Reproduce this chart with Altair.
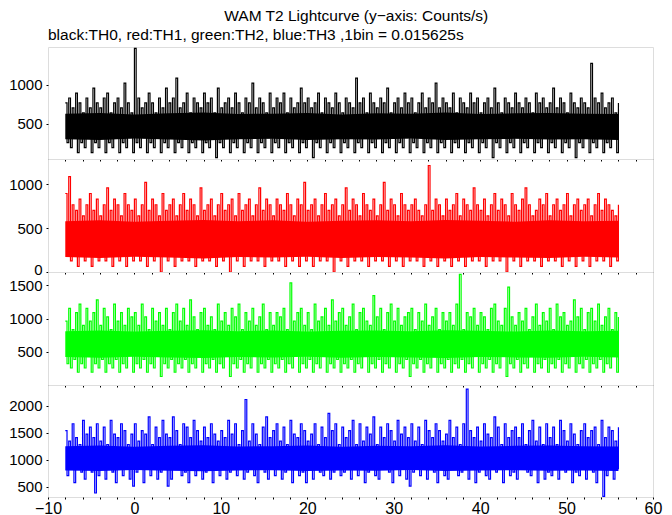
import altair as alt
import pandas as pd

# Light-curve data: counts per bin (binned display grid), converted to counts/s
BIN_SEC = 0.015625
T_START = -8.0
T_STEP = 0.2

TH0 = [
    12,4,13,3,11,5,14,2,12,4,10,3,13,5,11,2,15,4,12,3,
    11,5,13,2,14,4,10,3,12,5,13,2,11,4,16,3,12,5,10,2,
    23,4,13,3,11,5,12,2,14,4,12,3,10,5,13,2,11,4,15,3,
    12,5,13,2,17,4,11,3,12,5,14,2,10,4,13,3,12,5,11,2,
    14,4,12,3,13,5,10,1,15,4,11,3,12,5,13,2,11,4,14,3,
    12,5,10,2,13,4,12,3,16,5,11,2,13,4,12,3,10,5,14,2,
    11,4,13,3,12,5,14,2,10,4,13,3,11,5,12,2,15,4,12,3,
    13,5,11,1,12,4,14,3,10,5,13,2,12,4,11,3,14,5,12,2,
    10,4,13,3,12,5,11,2,17,4,12,3,13,5,10,2,14,4,12,3,
    11,5,13,2,12,4,15,3,10,5,12,2,13,4,11,3,14,5,12,2,
    13,4,10,3,12,5,14,2,11,4,13,3,12,5,16,2,11,4,13,3,
    12,5,11,2,14,4,10,3,13,5,12,2,11,4,14,3,12,5,13,2,
    10,4,12,3,13,5,11,1,15,4,12,3,10,5,13,2,12,4,11,3,
    14,5,12,2,11,4,13,3,12,5,10,2,14,4,12,3,13,5,11,2,
    12,4,15,3,11,5,13,2,12,4,10,3,14,5,12,1,11,4,13,3,
    12,5,11,2,20,4,13,3,12,5,14,2,11,4,12,3,13,5,10,2,12,
]

TH1 = [
    14,3,17,2,12,4,11,1,13,3,10,2,12,4,14,1,11,3,13,2,
    10,4,12,2,15,3,11,1,13,4,12,2,10,3,14,1,12,4,11,2,
    13,3,10,2,12,4,16,1,11,3,13,2,12,4,10,0,14,3,11,2,
    12,4,13,1,10,3,12,2,14,4,11,2,13,3,12,1,10,4,15,2,
    11,3,12,2,13,4,10,1,12,3,14,2,11,4,12,0,13,3,10,2,
    14,4,11,1,12,3,13,2,10,4,12,2,15,3,11,1,13,4,12,2,
    10,3,13,2,12,4,11,1,14,3,12,2,10,4,13,1,12,3,16,2,
    11,4,12,1,13,3,10,2,12,4,14,2,11,3,12,0,13,4,10,2,
    12,3,15,1,11,4,13,2,12,3,10,2,14,4,12,1,11,3,13,2,
    10,4,12,2,16,3,11,1,13,4,12,2,10,3,14,1,12,4,11,2,
    12,3,13,2,11,4,10,1,12,3,19,2,11,4,13,1,12,3,10,2,
    13,4,11,1,12,3,14,2,10,4,13,1,12,3,11,2,15,4,12,2,
    11,3,13,1,10,4,12,2,14,3,11,2,13,4,12,0,10,3,14,2,
    12,4,11,1,13,3,15,2,12,4,10,2,11,3,13,1,12,4,14,2,
    10,3,12,2,13,4,11,1,12,3,14,2,10,4,12,1,13,3,11,2,
    12,4,13,1,10,3,12,2,14,4,11,2,13,3,12,1,11,4,10,2,12,
]

TH2 = [
    15,5,18,4,13,6,17,3,19,5,14,4,18,7,15,3,17,5,20,4,
    14,6,18,3,16,5,13,4,19,6,15,3,17,5,14,4,18,7,16,3,
    17,5,14,4,19,6,16,3,13,5,18,4,15,7,17,2,14,5,18,4,
    13,6,17,3,19,5,15,4,18,6,14,3,20,5,16,4,13,7,17,3,
    18,5,14,4,16,6,13,3,19,5,15,4,17,7,14,2,18,5,16,4,
    19,6,13,3,17,5,15,4,18,7,14,3,16,5,19,4,13,6,17,3,
    14,5,17,4,16,6,18,3,13,5,24,4,15,7,17,3,18,5,14,4,
    17,6,13,3,19,5,15,4,16,7,18,3,14,5,20,4,15,6,17,3,
    18,5,14,4,16,6,19,3,13,5,17,4,18,7,15,3,14,5,21,4,
    16,6,18,3,13,5,17,4,19,7,15,3,18,5,14,4,16,6,17,2,
    18,5,13,4,17,6,15,3,19,5,14,4,16,7,18,3,13,5,17,4,
    15,6,17,3,14,5,19,4,26,6,13,3,17,5,16,4,18,7,14,3,
    17,5,16,4,13,6,18,3,19,5,15,4,14,7,18,2,23,5,16,4,
    14,6,17,3,15,5,18,4,13,7,16,3,19,5,14,4,17,6,15,3,
    18,5,13,4,19,6,16,3,17,5,14,4,15,7,20,3,16,5,18,4,
    13,6,17,3,18,5,15,4,19,6,14,3,16,5,18,4,13,7,17,3,16,
]

TH3 = [
    24,11,21,13,26,9,22,14,20,12,27,10,23,15,25,12,22,6,26,11,
    21,13,25,10,20,14,27,12,23,9,22,15,26,11,24,13,20,10,23,8,
    26,12,21,14,24,9,23,13,28,11,20,15,25,10,22,12,27,14,23,8,
    22,10,28,13,24,15,20,11,26,12,25,9,22,14,27,11,24,13,21,10,
    25,12,22,14,26,9,23,15,21,11,24,13,22,10,27,12,23,14,26,11,
    20,13,24,10,33,12,21,15,26,11,23,9,20,14,25,12,28,10,22,13,
    24,11,26,14,21,10,25,12,20,13,27,9,23,15,22,11,26,12,24,9,
    21,13,23,10,26,14,20,12,25,11,22,15,29,10,24,12,26,13,20,11,
    25,12,22,14,24,10,27,13,20,11,26,15,21,9,25,12,23,14,28,11,
    20,10,25,13,22,15,26,12,24,9,21,14,27,11,23,13,25,10,22,8,
    26,12,21,14,25,11,20,13,27,10,24,15,22,12,26,9,24,13,21,11,
    23,10,27,13,22,15,25,11,20,12,26,14,36,10,24,13,22,9,25,12,
    21,14,26,11,23,10,22,15,28,12,25,13,20,9,26,14,22,11,24,12,
    25,10,22,13,26,15,20,12,24,11,27,14,21,9,25,13,20,10,26,12,
    22,11,25,14,20,10,27,13,24,12,21,15,26,9,23,12,20,11,24,13,
    26,10,22,14,24,12,25,9,20,13,27,5,22,11,25,14,24,10,21,13,25,
]

# Dense core of each light curve (counts/s), read every 4 s from -8 s to 56 s
CORE_T = [-8, -4, 0, 4, 8, 12, 16, 20, 24, 28, 32, 36, 40, 44, 48, 52, 56]
CORE0_LO = [300, 290, 310, 295, 285, 300, 305, 290, 300, 295, 310, 290, 300, 305, 295, 300, 290]
CORE0_HI = [630, 640, 620, 635, 645, 625, 630, 640, 620, 635, 630, 645, 625, 635, 640, 630, 625]
CORE1_LO = [170, 160, 175, 165, 155, 170, 165, 175, 160, 170, 165, 155, 170, 165, 160, 175, 165]
CORE1_HI = [580, 590, 575, 585, 595, 580, 590, 575, 585, 590, 580, 595, 585, 575, 590, 580, 585]
CORE2_LO = [420, 410, 425, 415, 405, 420, 415, 425, 410, 420, 415, 405, 420, 415, 410, 425, 415]
CORE2_HI = [810, 820, 805, 815, 825, 810, 820, 805, 815, 820, 810, 825, 815, 805, 820, 810, 815]
CORE3_LO = [800, 790, 810, 795, 785, 800, 805, 790, 800, 795, 810, 790, 800, 805, 795, 800, 790]
CORE3_HI = [1250, 1260, 1240, 1255, 1265, 1245, 1250, 1260, 1240, 1255, 1250, 1265, 1245, 1255, 1260, 1250, 1245]

TITLE = "WAM T2 Lightcurve (y\u2212axis: Counts/s)"
SUBTITLE = "black:TH0, red:TH1, green:TH2, blue:TH3 ,1bin = 0.015625s"

FONT = "Liberation Sans"
W = 605


def frame(counts):
    return pd.DataFrame({
        "t": [T_START + T_STEP * i for i in range(len(counts))],
        "rate": [c / BIN_SEC for c in counts],
    })


def panel(counts, core_lo, core_hi, color, lo, hi, yticks, h, bottom=False, title=None):
    minor = list(range(-10, 61, 2))
    if bottom:
        xax = alt.Axis(values=minor,
                       labelExpr="datum.value % 10 === 0 ? datum.label : ''",
                       labelFontSize=16, labelFont=FONT, labelColor="black",
                       labelPadding=1, labelFlush=False, labelOverlap=False,
                       tickSize=2, tickColor="black", domain=False, grid=False, title=None)
    else:
        xax = alt.Axis(values=minor, labels=False, tickSize=2, tickColor="black",
                       domain=False, grid=False, title=None)
    yax = alt.Axis(values=yticks, format="d", labelFontSize=15, labelFont=FONT,
                   labelColor="black", labelPadding=4, tickSize=2, tickColor="black",
                   labelOffset={"condition": {"test": "datum.value === 0", "value": -3}, "value": 0},
                   domain=False, grid=False, title=None)
    xs = alt.Scale(domain=[-10, 60], nice=False, zero=False)
    ys = alt.Scale(domain=[lo, hi], nice=False, zero=False)
    core_df = pd.DataFrame({"t": CORE_T, "lo": core_lo, "hi": core_hi})
    core = alt.Chart(core_df).mark_area(color=color, opacity=1, clip=True).encode(
        x=alt.X("t:Q", scale=xs, axis=xax),
        y=alt.Y("lo:Q", scale=ys, axis=yax),
        y2="hi:Q",
    )
    line = alt.Chart(frame(counts)).mark_line(
        interpolate="step-after", color=color, strokeWidth=1.2, clip=True
    ).encode(
        x=alt.X("t:Q", scale=xs, axis=xax),
        y=alt.Y("rate:Q", scale=ys, axis=yax),
    )
    ch = alt.layer(core, line).properties(width=W, height=h)
    if title:
        ch = ch.properties(title=alt.TitleParams(
            title, anchor="start", frame="group", fontSize=15.5, font=FONT,
            fontWeight="normal", color="black", offset=4))
    return ch


p1 = panel(TH0, CORE0_LO, CORE0_HI, "#000000", 45, 1490, [500, 1000, 1500], 112, title=SUBTITLE)
p2 = panel(TH1, CORE1_LO, CORE1_HI, "#ff0000", 0, 1290, [0, 500, 1000], 113)
p3 = panel(TH2, CORE2_LO, CORE2_HI, "#00ff00", 0, 1700, [500, 1000, 1500], 113)
p4 = panel(TH3, CORE3_LO, CORE3_HI, "#0000ff", 310, 2380, [500, 1000, 1500, 2000], 112, bottom=True)

chart = alt.vconcat(p1, p2, p3, p4, spacing=0, bounds="flush").properties(
    padding=0,
    title=alt.TitleParams(TITLE, anchor="middle", fontSize=15.5, font=FONT,
                          fontWeight="normal", color="black", offset=3, dx=21),
).configure_view(stroke=None).configure(background="white")

chart.save("out.html", embed_options={"renderer": "svg", "actions": False})
